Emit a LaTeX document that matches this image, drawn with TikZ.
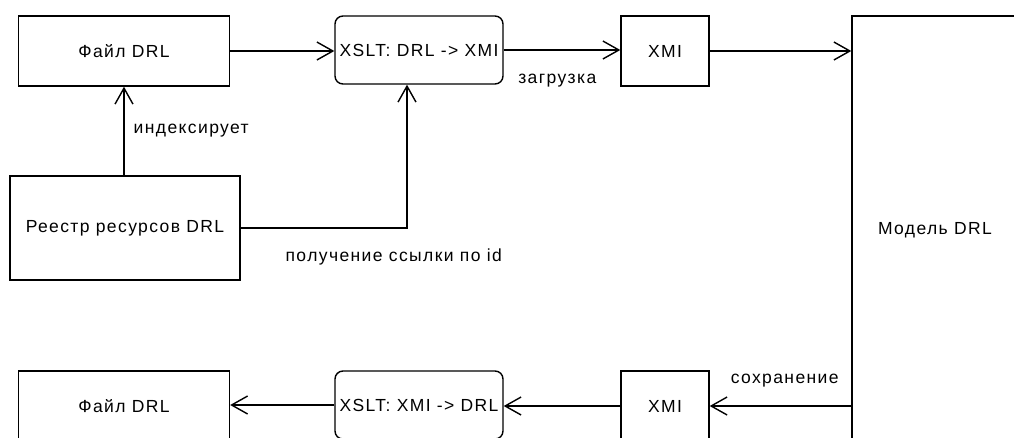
\documentclass[tikz,border=0pt]{standalone}
\usepackage{fontspec}
\setmainfont[LetterSpace=8]{Liberation Sans}
\usepackage{tikz}
\usetikzlibrary{arrows.meta, positioning, calc}

\begin{document}
\begin{tikzpicture}[
  x=1pt, y=-1pt,
  box/.style = {
    rectangle, draw=black, line width=1.4pt, fill=white, inner sep=0pt,
    minimum width=211pt, minimum height=70pt, align=center,
    font=\fontsize{17.5}{21}\selectfont
  },
  xsltbox/.style = {
    box, rounded corners=8pt, minimum width=168pt, minimum height=68pt
  },
  xmibox/.style = {box, minimum width=88pt},
  arrow/.style = {-{Straight Barb[length=16pt, width=18pt]}, line width=1.4pt},
  lbl/.style = {font=\fontsize{17.5}{21}\selectfont, inner sep=0pt}
]
  % рамка рисунка
  \fill[white] (0,0) rectangle (1014,437);
  \useasboundingbox (0,0) rectangle (1014,437);
  \clip (0,0) rectangle (1014,437);

  % верхний ряд: загрузка
  \node[box] (file1) at (124, 51) {Файл DRL};
  \node[xsltbox] (xslt1) at (419, 50) {XSLT: DRL -> XMI};
  \node[xmibox] (xmi1) at (665, 51) {XMI};

  % модель справа (уходит за край)
  \node[box, minimum width=166pt, minimum height=428pt] (model) at (935, 230) {Модель DRL};

  % реестр ресурсов
  \node[box, minimum width=230pt, minimum height=104pt] (reg) at (125, 228) {Реестр ресурсов DRL};

  % нижний ряд: сохранение
  \node[box] (file2) at (124, 406) {Файл DRL};
  \node[xsltbox] (xslt2) at (419, 405) {XSLT: XMI -> DRL};
  \node[xmibox] (xmi2) at (665, 406) {XMI};

  \coordinate (xin) at ([xshift=-12pt]xslt1.south);

  % связи верхнего ряда
  \draw[arrow] (file1.east) -- (file1.east -| xslt1.west);
  \draw[arrow] (xslt1.east) -- (xslt1.east -| xmi1.west)
    node[lbl, pos=0.46, below=23pt] {загрузка};
  \draw[arrow] (xmi1.east) -- (xmi1.east -| model.west);

  % связи реестра
  \draw[arrow] (reg.north -| file1.south) -- (file1.south)
    node[lbl, midway, right=9pt] {индексирует};
  \draw[arrow] (reg.east) -| (xin)
    node[lbl, pos=0.46, below=20pt] {получение ссылки по id};

  % связи нижнего ряда
  \draw[arrow] (xmi2.east -| model.west) -- (xmi2.east)
    node[lbl, pos=0.47, above=18pt] {сохранение};
  \draw[arrow] (xmi2.west) -- (xmi2.west -| xslt2.east);
  \draw[arrow] (xslt2.west) -- (xslt2.west -| file2.east);

\end{tikzpicture}
\end{document}
